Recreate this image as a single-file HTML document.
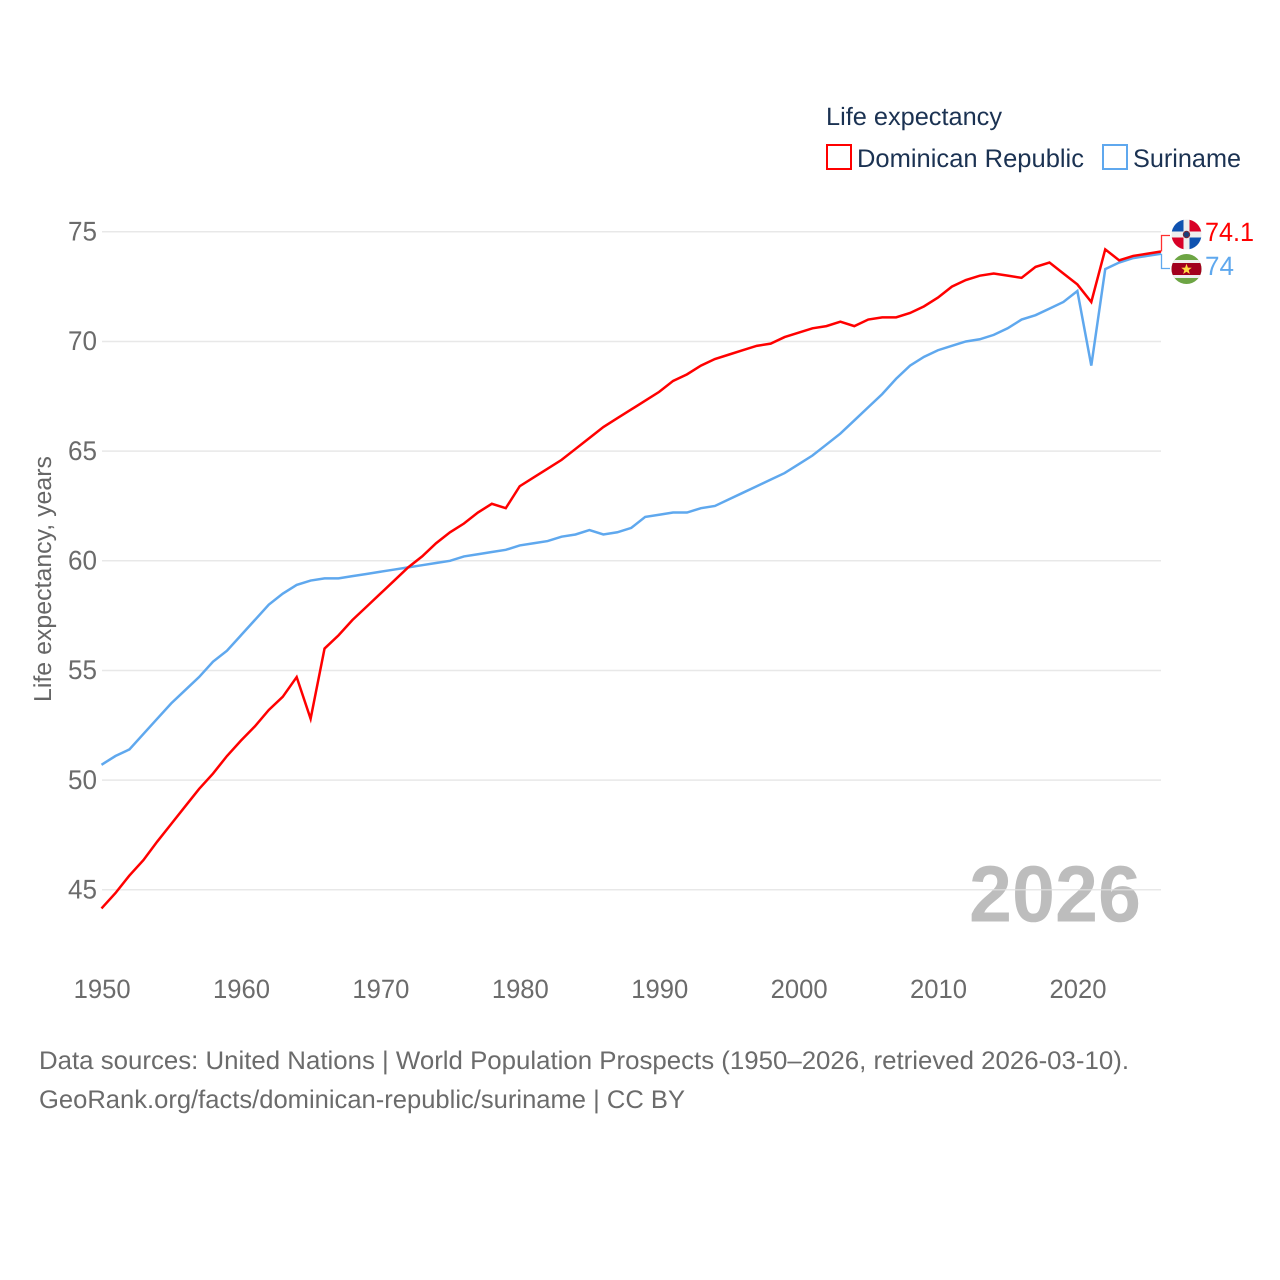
<!DOCTYPE html>
<html lang="en">
<head>
<meta charset="utf-8">
<title>Life expectancy: Dominican Republic and Suriname</title>
<style>
html,body{margin:0;padding:0;background:#fff;}
svg{display:block;font-family:"Liberation Sans",sans-serif;}
text{text-rendering:geometricPrecision;}
</style>
</head>
<body>
<svg id="chart" width="1280" height="1280" viewBox="0 0 1280 1280" xmlns="http://www.w3.org/2000/svg">
  <rect width="1280" height="1280" fill="#fff"/>
  <defs>
    <clipPath id="clip-do"><circle cx="1186.5" cy="234.5" r="15"/></clipPath>
    <clipPath id="clip-sr"><circle cx="1186.5" cy="269" r="15"/></clipPath>
  </defs>
  <text x="969" y="921.5" font-size="80" font-weight="700" fill="#bdbdbd" textLength="172" lengthAdjust="spacingAndGlyphs">2026</text>
  <g id="grid"></g>
  <g id="yticks"></g>
  <g id="xticks"></g>
  <text transform="translate(51,702) rotate(-90)" font-size="24.5" fill="#666" textLength="246" lengthAdjust="spacingAndGlyphs">Life expectancy, years</text>

  <g>
    <text x="826" y="125" font-size="25" fill="#1b3252" textLength="176" lengthAdjust="spacingAndGlyphs">Life expectancy</text>
    <g>
      <rect x="827" y="145" width="24" height="24" fill="#fff" stroke="#ff0000" stroke-width="2"/>
      <text x="857" y="167" font-size="25.5" fill="#1b3252" textLength="227" lengthAdjust="spacingAndGlyphs">Dominican Republic</text>
    </g>
    <g>
      <rect x="1103" y="145" width="24" height="24" fill="#fff" stroke="#5fa8ee" stroke-width="2"/>
      <text x="1133" y="167" font-size="25.5" fill="#1b3252" textLength="108" lengthAdjust="spacingAndGlyphs">Suriname</text>
    </g>
  </g>

  <path id="line-sr" fill="none" stroke="#5fa8ee" stroke-width="2.5" stroke-linejoin="miter"/>
  <path id="line-do" fill="none" stroke="#ff0000" stroke-width="2.5" stroke-linejoin="miter"/>

  <path id="conn-do" fill="none" stroke="#ff3030" stroke-width="1.3"/>
  <path id="conn-sr" fill="none" stroke="#5fa8ee" stroke-width="1.3"/>

  <g clip-path="url(#clip-do)">
    <rect x="1171" y="219" width="31" height="31" fill="#eeeeee"/>
    <rect x="1171" y="219" width="12.5" height="12.5" fill="#0f52b0"/>
    <rect x="1189.5" y="219" width="13" height="12.5" fill="#d80027"/>
    <rect x="1171" y="237.5" width="12.5" height="13" fill="#d80027"/>
    <rect x="1189.5" y="237.5" width="13" height="13" fill="#0f52b0"/>
    <circle cx="1186.5" cy="234.5" r="3.2" fill="#1a3f7a" stroke="#7a2a3a" stroke-width="1"/>
  </g>
  <g clip-path="url(#clip-sr)">
    <rect x="1171" y="254" width="31" height="31" fill="#6da544"/>
    <rect x="1171" y="260" width="31" height="3" fill="#eeeeee"/>
    <rect x="1171" y="263" width="31" height="12" fill="#a2001d"/>
    <rect x="1171" y="275" width="31" height="3" fill="#eeeeee"/>
    <polygon points="1186.5,263.8 1187.9,267.6 1191.8,267.7 1188.7,270.1 1189.8,274 1186.5,271.7 1183.2,274 1184.3,270.1 1181.2,267.7 1185.1,267.6" fill="#ffda44"/>
  </g>

  <text id="value-do" x="1205" y="241" font-size="26.5" fill="#ff0000" textLength="49" lengthAdjust="spacingAndGlyphs">74.1</text>
  <text id="value-sr" x="1205" y="275" font-size="26.5" fill="#5fa8ee" textLength="29" lengthAdjust="spacingAndGlyphs">74</text>

  <text x="39" y="1069" font-size="25.5" fill="#6b6b6b" textLength="1090" lengthAdjust="spacingAndGlyphs">Data sources: United Nations | World Population Prospects (1950–2026, retrieved 2026-03-10).</text>
  <text x="39" y="1108" font-size="25.5" fill="#6b6b6b" textLength="646" lengthAdjust="spacingAndGlyphs">GeoRank.org/facts/dominican-republic/suriname | CC BY</text>
</svg>
<script>
var startYear = 1950;
var endYear = 2026;
var yTickValues = [45, 50, 55, 60, 65, 70, 75];
var xTickValues = [1950, 1960, 1970, 1980, 1990, 2000, 2010, 2020];
var dominicanRepublic = [
  44.15, 44.85, 45.65, 46.35, 47.2, 48.0, 48.8, 49.6, 50.3, 51.1,
  51.8, 52.45, 53.2, 53.8, 54.7, 52.8, 56.0, 56.6, 57.3, 57.9,
  58.5, 59.1, 59.7, 60.2, 60.8, 61.3, 61.7, 62.2, 62.6, 62.4,
  63.4, 63.8, 64.2, 64.6, 65.1, 65.6, 66.1, 66.5, 66.9, 67.3,
  67.7, 68.2, 68.5, 68.9, 69.2, 69.4, 69.6, 69.8, 69.9, 70.2,
  70.4, 70.6, 70.7, 70.9, 70.7, 71.0, 71.1, 71.1, 71.3, 71.6,
  72.0, 72.5, 72.8, 73.0, 73.1, 73.0, 72.9, 73.4, 73.6, 73.1,
  72.6, 71.8, 74.2, 73.7, 73.9, 74.0, 74.1
];
var suriname = [
  50.7, 51.1, 51.4, 52.1, 52.8, 53.5, 54.1, 54.7, 55.4, 55.9,
  56.6, 57.3, 58.0, 58.5, 58.9, 59.1, 59.2, 59.2, 59.3, 59.4,
  59.5, 59.6, 59.7, 59.8, 59.9, 60.0, 60.2, 60.3, 60.4, 60.5,
  60.7, 60.8, 60.9, 61.1, 61.2, 61.4, 61.2, 61.3, 61.5, 62.0,
  62.1, 62.2, 62.2, 62.4, 62.5, 62.8, 63.1, 63.4, 63.7, 64.0,
  64.4, 64.8, 65.3, 65.8, 66.4, 67.0, 67.6, 68.3, 68.9, 69.3,
  69.6, 69.8, 70.0, 70.1, 70.3, 70.6, 71.0, 71.2, 71.5, 71.8,
  72.3, 68.9, 73.3, 73.6, 73.8, 73.9, 74.0
];

var NS = 'http://www.w3.org/2000/svg';
function xScale(year) { return 101.5 + (year - startYear) * (1161 - 101.5) / (endYear - startYear); }
function yScale(v) { return 889.8 - (v - 45) * (889.8 - 231.8) / 30; }
function linePath(values) {
  return values.map(function (v, i) {
    return (i ? 'L' : 'M') + xScale(startYear + i).toFixed(2) + ' ' + yScale(v).toFixed(2);
  }).join(' ');
}

var gridGroup = document.getElementById('grid');
var yGroup = document.getElementById('yticks');
yTickValues.forEach(function (v) {
  var gl = document.createElementNS(NS, 'line');
  
  
  gl.setAttribute('x1', 102);
  gl.setAttribute('x2', 1161);
  gl.setAttribute('y1', yScale(v));
  gl.setAttribute('y2', yScale(v));
  gl.setAttribute('stroke', '#e0e0e0');
  gl.setAttribute('stroke-opacity', '0.75');
  gl.setAttribute('stroke-width', '1.5');
  gridGroup.appendChild(gl);

  var t = document.createElementNS(NS, 'text');
  
  
  t.setAttribute('x', 97);
  t.setAttribute('y', yScale(v) + 8.7);
  t.setAttribute('text-anchor', 'end');
  t.setAttribute('font-size', '27');
  t.setAttribute('textLength', '29');
  t.setAttribute('lengthAdjust', 'spacingAndGlyphs');
  t.setAttribute('fill', '#6b6b6b');
  t.textContent = String(v);
  yGroup.appendChild(t);
});

var xGroup = document.getElementById('xticks');
xTickValues.forEach(function (y) {
  var t = document.createElementNS(NS, 'text');
  
  
  t.setAttribute('x', xScale(y) + 0.6);
  t.setAttribute('y', 998);
  t.setAttribute('text-anchor', 'middle');
  t.setAttribute('font-size', '26.5');
  t.setAttribute('textLength', '57');
  t.setAttribute('lengthAdjust', 'spacingAndGlyphs');
  t.setAttribute('fill', '#6b6b6b');
  t.textContent = String(y);
  xGroup.appendChild(t);
});

document.getElementById('line-do').setAttribute('d', linePath(dominicanRepublic));
document.getElementById('line-sr').setAttribute('d', linePath(suriname));

var lastDo = dominicanRepublic[dominicanRepublic.length - 1];
var lastSr = suriname[suriname.length - 1];
document.getElementById('conn-do').setAttribute('d', 'M1161.5 ' + yScale(lastDo).toFixed(1) + ' V235.5 H1170');
document.getElementById('conn-sr').setAttribute('d', 'M1161.5 ' + yScale(lastSr).toFixed(1) + ' V268.5 H1170');
document.getElementById('value-do').textContent = String(lastDo);
document.getElementById('value-sr').textContent = String(lastSr);
</script>
</body>
</html>
